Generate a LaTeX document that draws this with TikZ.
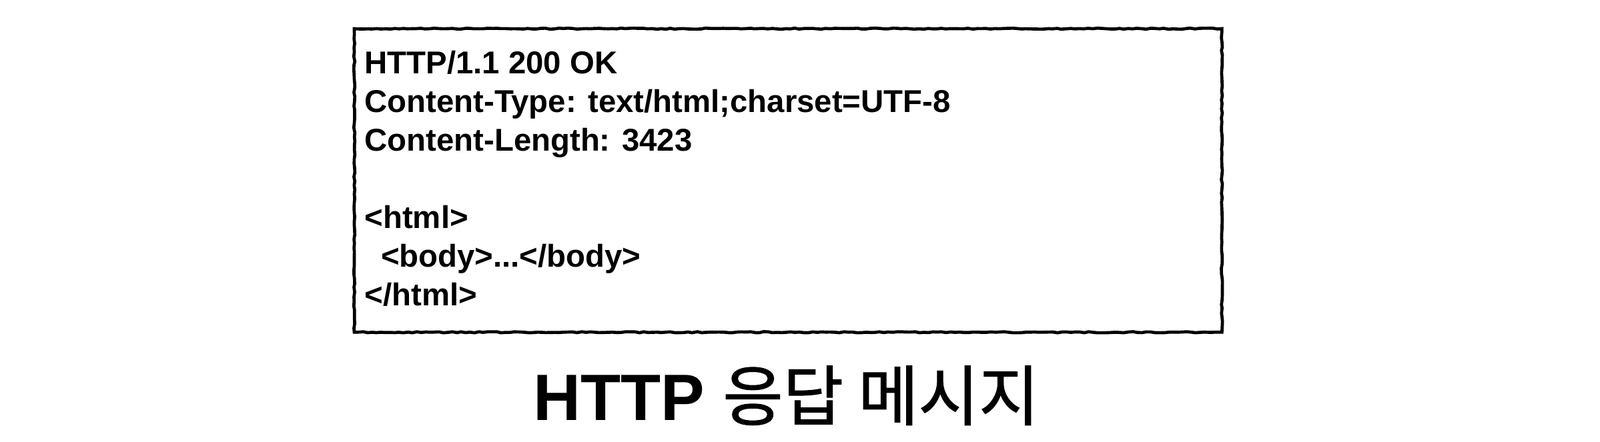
\documentclass[tikz,border=0pt]{standalone}
\usepackage{fontspec}
\usetikzlibrary{decorations.pathmorphing}
\setmainfont{Liberation Sans}
\newfontfamily\krfont{Noto Sans CJK KR}[FakeBold=1.2]
\begin{document}
\begin{tikzpicture}[x=1pt,y=1pt,
  msgline/.style={anchor=base west,inner sep=0pt,font=\fontsize{14.2}{17}\selectfont\bfseries},
  frame/.style={draw=black,line width=1.4pt,decorate,decoration={random steps,segment length=2pt,amplitude=0.25pt}},
  titletext/.style={anchor=base,inner sep=0pt}]
\useasboundingbox (0,0) rectangle (719.4,198.6);
\node[minimum width=389.7pt,minimum height=136.2pt,anchor=north west,inner sep=0pt] (box) at (159.3,185.7) {};
\draw[frame] (box.north west) -- (box.north east) -- (box.south east) -- (box.south west) -- cycle;
\node[msgline] (l1) at (163.8,165.6) {HTTP/1.1 200 OK};
\node[msgline] (l2) at (163.8,148.2) {Content-Type: text/html;charset=UTF-8};
\node[msgline] (l3) at (163.8,130.8) {Content-Length: 3423};
\node[msgline] (l4) at (163.8,96.0) {<html>};
\node[msgline] (l5) at (171.1,78.6) {<body>...</body>};
\node[msgline] (l6) at (163.8,61.2) {</html>};
\node[titletext] (title) at (353.5,9.6) {\fontsize{29.5}{33}\selectfont\textbf{HTTP} {\krfont 응답 메시지}};
\end{tikzpicture}
\end{document}
